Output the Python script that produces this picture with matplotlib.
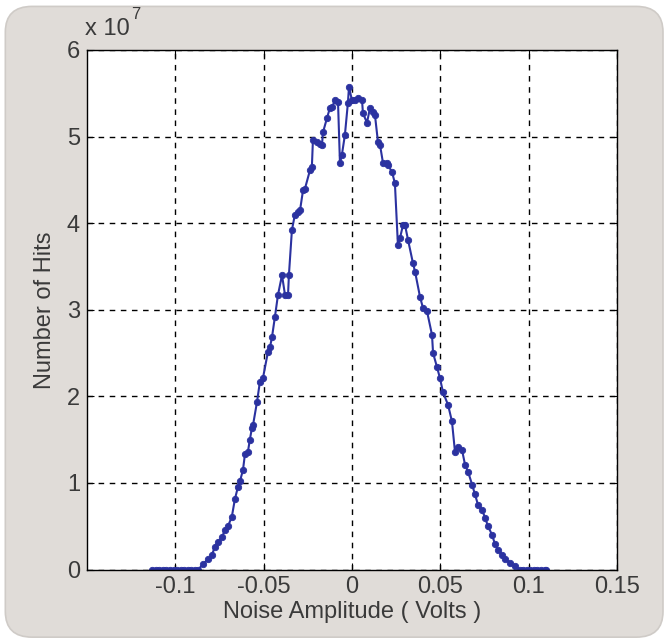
import matplotlib as mpl
mpl.use('Agg')
import matplotlib.pyplot as plt
from matplotlib.patches import FancyBboxPatch
import numpy as np

# noise amplitude (volts) and number of hits (x 1e7)
amp_left_tail = [-0.113, -0.111, -0.109, -0.107, -0.105, -0.103, -0.101,
                 -0.099, -0.097, -0.095, -0.093, -0.091, -0.089, -0.087]
hits_left_tail = [0.0] * len(amp_left_tail)

amp_core = [-0.0844, -0.0815, -0.0793, -0.0776, -0.0759, -0.0736, -0.0719,
            -0.0702, -0.0680, -0.0663, -0.0646, -0.0634, -0.0617, -0.0606,
            -0.0589, -0.0578, -0.0566, -0.0560, -0.0538, -0.0521, -0.0504,
            -0.0476, -0.0464, -0.0453, -0.0436, -0.0419, -0.0396, -0.0379,
            -0.0362, -0.0357, -0.0340, -0.0323, -0.0306, -0.0294, -0.0277,
            -0.0266, -0.0238, -0.0227, -0.0221, -0.0198, -0.0181, -0.0170,
            -0.0164, -0.0142, -0.0125, -0.0113, -0.0096, -0.0079, -0.0068,
            -0.0057, -0.0040, -0.0023, -0.0017, 0.0000, 0.0017, 0.0034,
            0.0057, 0.0062, 0.0085, 0.0102, 0.0119, 0.0130, 0.0147, 0.0159,
            0.0176, 0.0198, 0.0204, 0.0227, 0.0243, 0.0260, 0.0272, 0.0289,
            0.0300, 0.0317, 0.0345, 0.0357, 0.0385, 0.0402, 0.0425, 0.0453,
            0.0459, 0.0481, 0.0498, 0.0515, 0.0544, 0.0566, 0.0583, 0.0600,
            0.0623, 0.0640, 0.0657, 0.0680, 0.0696, 0.0713, 0.0736, 0.0753,
            0.0770, 0.0793, 0.0810, 0.0827, 0.0849, 0.0866, 0.0895, 0.0923]
hits_core = [0.06, 0.12, 0.17, 0.26, 0.32, 0.37, 0.46,
             0.50, 0.61, 0.81, 0.95, 1.02, 1.15, 1.33,
             1.36, 1.50, 1.64, 1.67, 1.93, 2.17, 2.21,
             2.51, 2.57, 2.68, 2.92, 3.17, 3.40, 3.17,
             3.17, 3.40, 3.92, 4.10, 4.13, 4.15, 4.38,
             4.40, 4.61, 4.65, 4.96, 4.94, 4.92, 4.90,
             5.05, 5.21, 5.33, 5.34, 5.42, 5.40, 4.69,
             4.79, 5.02, 5.39, 5.57, 5.42, 5.42, 5.44,
             5.42, 5.27, 5.16, 5.33, 5.28, 5.25, 4.94, 4.90,
             4.69, 4.69, 4.67, 4.59, 4.46, 3.75, 3.83, 3.98,
             3.98, 3.81, 3.54, 3.44, 3.15, 3.02, 2.98, 2.71,
             2.50, 2.34, 2.21, 2.05, 1.90, 1.71, 1.36, 1.41,
             1.38, 1.21, 1.13, 0.98, 0.87, 0.75, 0.69, 0.60,
             0.50, 0.40, 0.29, 0.23, 0.17, 0.12, 0.08, 0.04]

amp_right_tail = [0.095, 0.097, 0.099, 0.101, 0.103, 0.105, 0.107, 0.109, 0.110]
hits_right_tail = [0.0] * len(amp_right_tail)

x_ticks = [-0.1, -0.05, 0, 0.05, 0.1, 0.15]
x_tick_labels = ['-0.1', '-0.05', '0', '0.05', '0.1', '0.15']
y_ticks = [0, 1, 2, 3, 4, 5, 6]

amp = np.array(amp_left_tail + amp_core + amp_right_tail)
hits = np.array(hits_left_tail + hits_core + hits_right_tail) * 1e7

plt.rcParams['font.family'] = ['Liberation Sans', 'DejaVu Sans']
text_col = '#3a3a3a'
panel_col = '#e0dcd8'
fsize = 17

fig = plt.figure(figsize=(6.67, 6.41), dpi=100)
fig.patch.set_facecolor('white')
frame = FancyBboxPatch((0.008, 0.006), 0.986, 0.984,
                       boxstyle='round,pad=0,rounding_size=0.04',
                       transform=fig.transFigure, facecolor=panel_col,
                       edgecolor='#cfcbc7', linewidth=1.2, zorder=-10)
fig.patches.append(frame)

ax = fig.add_axes([0.1304, 0.1115, 0.7946, 0.8105])
ax.set_facecolor('white')
ax.plot(amp, hits, color='#2b32a0', linewidth=1.5, marker='o',
        markersize=4.6, markeredgewidth=0.6)

ax.set_xlim(-0.15, 0.15)
ax.set_ylim(0, 6e7)
ax.set_xticks(x_ticks)
ax.set_xticklabels(x_tick_labels)
ax.set_yticks([v * 1e7 for v in y_ticks])
ax.set_yticklabels([str(v) for v in y_ticks])
ax.tick_params(direction='in', length=5, width=0.8, labelsize=fsize,
               colors='black', labelcolor=text_col, pad=5)
ax.tick_params(top=True, right=True)
ax.grid(True, color='black', linestyle=(0, (4, 4)), linewidth=1.0)
for sp in ax.spines.values():
    sp.set_linewidth(1.0)
    sp.set_color('black')

ax.set_xlabel('Noise Amplitude ( Volts )', fontsize=fsize, color=text_col, labelpad=2)
ax.set_ylabel('Number of Hits', fontsize=fsize, color=text_col, labelpad=8)

fig.text(0.128, 0.938, 'x 10', fontsize=fsize, color=text_col, ha='left', va='bottom')
fig.text(0.196, 0.966, '7', fontsize=12, color=text_col, ha='left', va='bottom')

fig.savefig('out.png', dpi=100, facecolor=fig.get_facecolor())
